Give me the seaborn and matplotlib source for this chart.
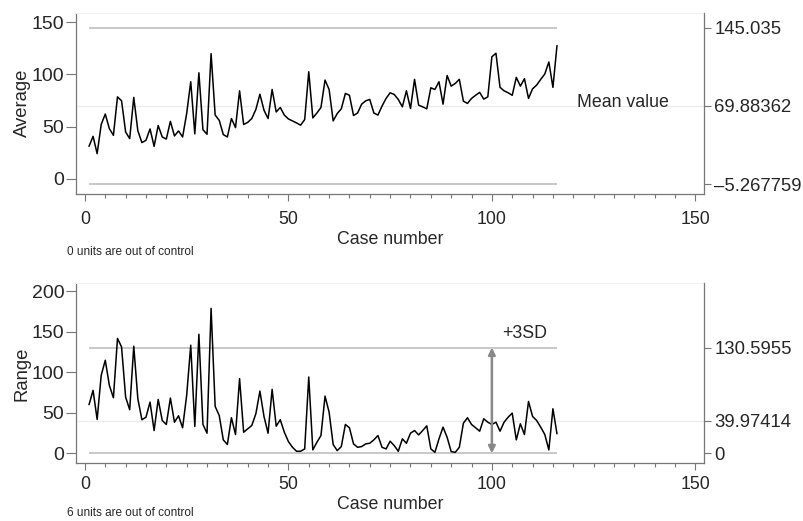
import numpy as np
import matplotlib
matplotlib.use("Agg")
import matplotlib.pyplot as plt
import seaborn as sns

case = np.arange(1, 117)

average = [31, 40.6, 24, 52, 62, 48, 41.6, 78.5, 74.7, 44.8,
           38.4, 78, 46, 34.6, 36.8, 47.7, 31, 51, 40, 38,
           55, 41, 45.8, 40, 62.5, 93, 43, 101.6, 47, 42.6,
           120, 61, 56, 42.3, 40, 57.7, 49, 84.3, 52, 54,
           57.7, 66.4, 81, 65.7, 57.7, 85.6, 64, 68.3, 61, 57.3,
           55.4, 53.5, 51.3, 56.7, 102.6, 58.3, 63, 68.3, 94.6, 85.6,
           55.4, 62.5, 67, 81.8, 80, 60.6, 63, 71.5, 74.7, 76,
           63, 61, 69.6, 77, 82.4, 80.8, 76, 68.9, 84.3, 67.3,
           95.3, 70.5, 68.9, 67, 87.2, 85.6, 93, 71.5, 99, 88.8,
           91.4, 95.3, 74.4, 72.2, 77, 80, 82.8, 76.3, 78.5, 117,
           120.3, 87.6, 84.3, 82.4, 80, 97.2, 88.8, 95.9, 77, 86.2,
           89.8, 95.3, 100.4, 112, 87.6, 127.7]

ranges = [60, 77.7, 41.8, 96.3, 114.9, 83.9, 68.6, 141.8, 131.4, 69.4,
          53.8, 132.2, 67.4, 41.4, 44.6, 63.2, 28.1, 66.5, 40.5, 35.6,
          68.2, 38.4, 46.3, 31.5, 71.5, 133.5, 33.1, 147, 35.6, 24.8,
          179, 57.9, 46.7, 16.6, 10.8, 43.9, 23.2, 92.2, 26, 30.2,
          34.3, 48.8, 76.8, 45.5, 24.8, 78.9, 33.5, 41.4, 26, 14.5,
          7.4, 2.5, 2.5, 5.4, 94.2, 4.2, 13.6, 21.9, 70.6, 50.8,
          10.8, 3.3, 8.3, 35.6, 31.5, 11.6, 7.4, 8.3, 11.6, 12.4,
          16.6, 21.9, 7.4, 5.4, 14.9, 9.5, 2.5, 17.8, 12.4, 24.8,
          28.1, 22.7, 28.1, 33.9, 5.4, 1.2, 17.8, 32.3, 19.8, 2.1,
          1.2, 7.4, 37.2, 43.9, 35.6, 31.5, 27.3, 42.6, 38.4, 35.6,
          38.4, 27.3, 38.4, 44.6, 49.6, 16.6, 36.4, 23.2, 64, 45.5,
          40.5, 32.3, 23.2, 4.2, 55, 24]

avg_limits = [145.035, 69.88362, -5.267759]
avg_labels = ["145.035", "69.88362", "\u20135.267759"]
rng_limits = [130.5955, 39.97414, 0]
rng_labels = ["130.5955", "39.97414", "0"]

sns.set_style("ticks")
plt.rcParams["font.family"] = ["Liberation Sans", "DejaVu Sans"]

spine_col = "#777777"
fig = plt.figure(figsize=(8.04, 5.21), dpi=100)
ax1 = fig.add_axes([0.0945, 0.6285, 0.781, 0.3466])
ax2 = fig.add_axes([0.0945, 0.1107, 0.781, 0.3455])


def control_panel(ax, y, limits, labels, ylim, ylabel, xpad):
    ucl, cl, lcl = limits
    ax.axhline(cl, color="#ececec", lw=1.0, zorder=1)
    ax.hlines([ucl, lcl], case[0], case[-1], color="#c4c4c4", lw=1.3, zorder=1)
    sns.lineplot(x=case, y=y, ax=ax, color="black", lw=1.1, zorder=3)
    ax.set_xlim(-2.2, 152.1)
    ax.set_ylim(*ylim)
    ax.set_xticks([0, 50, 100, 150])
    ax.set_xticks(np.arange(0, 151, 5), minor=True)
    ax.set_ylabel(ylabel, fontsize=13.3)
    ax.yaxis.set_label_coords(-0.072, 0.5)
    ax.set_xlabel("Case number", fontsize=12.8, labelpad=2)
    ax.tick_params(axis="x", labelsize=12.8, color=spine_col, length=5,
                   width=0.8, pad=xpad)
    ax.tick_params(axis="y", labelsize=14, color=spine_col, length=7,
                   width=0.8, pad=1.5)
    ax.tick_params(axis="x", which="minor", color=spine_col, length=3, width=0.8)
    for s in ["left", "bottom"]:
        ax.spines[s].set_color(spine_col)
        ax.spines[s].set_linewidth(0.9)
    ax.spines["top"].set_color("#f2f2f2")
    ax.spines["right"].set_visible(False)
    tw = ax.twinx()
    tw.set_ylim(*ylim)
    tw.set_yticks(limits)
    tw.set_yticklabels(labels)
    tw.tick_params(axis="y", labelsize=13.3, color=spine_col, length=5,
                   width=0.8, pad=2.5)
    for s in ["left", "bottom", "top"]:
        tw.spines[s].set_visible(False)
    tw.spines["right"].set_color(spine_col)
    tw.spines["right"].set_linewidth(0.9)
    return tw


control_panel(ax1, average, avg_limits, avg_labels, (-14.3, 159), "Average", 7.5)
ax1.set_yticks([0, 50, 100, 150])
ax1.text(121, 73, "Mean value", fontsize=12.8, va="center", ha="left")
fig.text(0.083, 0.517, "0 units are out of control", fontsize=8.5, va="center")

control_panel(ax2, ranges, rng_limits, rng_labels, (-12.4, 209.9), "Range", 4)
ax2.set_yticks([0, 50, 100, 150, 200])
ax2.annotate("", xy=(100, rng_limits[0]), xytext=(100, rng_limits[2]),
             arrowprops=dict(arrowstyle="<|-|>", color="#888888", lw=1.8,
                             mutation_scale=10, shrinkA=0, shrinkB=0), zorder=4)
ax2.text(102.4, 148, "+3SD", fontsize=12.8, va="center", ha="left")
fig.text(0.083, 0.0155, "6 units are out of control", fontsize=8.5, va="center")

fig.savefig("out.png", dpi=100)
